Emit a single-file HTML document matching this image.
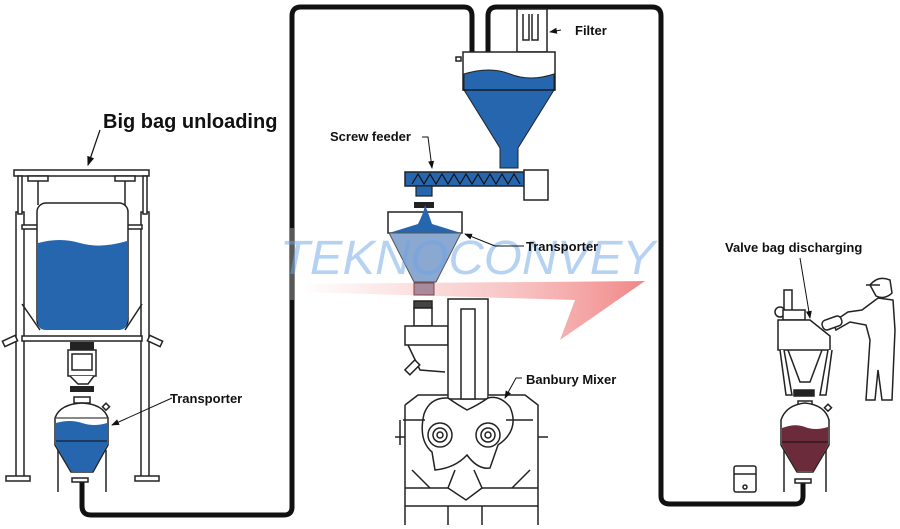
<!DOCTYPE html>
<html><head><meta charset="utf-8"><style>
html,body{margin:0;padding:0;background:#fff}
svg{display:block}
text{font-family:"Liberation Sans",sans-serif;font-weight:bold;fill:#111}
</style></head><body>
<svg width="900" height="529" viewBox="0 0 900 529" xmlns="http://www.w3.org/2000/svg">
<defs>
<linearGradient id="rg" x1="0" x2="1" y1="0" y2="0">
<stop offset="0" stop-color="#f4a0a0" stop-opacity="0"/>
<stop offset="0.6" stop-color="#f4a0a0" stop-opacity="0.6"/>
<stop offset="1" stop-color="#f08080" stop-opacity="0.95"/>
</linearGradient>
<marker id="ar" markerWidth="8" markerHeight="8" refX="7" refY="4" orient="auto"><path d="M0,1 L8,4 L0,7 z" fill="#111"/></marker>
</defs>
<g fill="none" stroke="#111" stroke-width="5" stroke-linejoin="round">
<path d="M82,478 V506 Q82,515 91,515 H284 Q292,515 292,507 V16 Q292,7 301,7 H464 Q472,7 472,16 V52"/>
<path d="M488,52 V16 Q488,7 497,7 H652 Q661,7 661,16 V496 Q661,504 670,504 H795 Q803,504 803,496 V482"/>
</g>
<rect x="289" y="228" width="6" height="72" fill="#888" opacity="0.6"/>
<!-- red arrow watermark -->
<path d="M300,284 L645,281 L560,340 L575,300 L300,292 z" fill="url(#rg)"/>
<!-- Big bag frame -->
<g stroke="#222" stroke-width="1.5" fill="#fff">
<rect x="14" y="170" width="135" height="6"/>
<rect x="16" y="212" width="8" height="268"/><rect x="141" y="212" width="8" height="268"/>
<rect x="18" y="176" width="4" height="38"/><rect x="143" y="176" width="4" height="38"/>
<rect x="6" y="476" width="24" height="5"/><rect x="135" y="476" width="24" height="5"/>
<rect x="22" y="225" width="120" height="4"/>
<rect x="22" y="336" width="120" height="5"/>
<rect x="28" y="176" width="20" height="5"/><rect x="115" y="176" width="20" height="5"/>
<line x1="38" y1="181" x2="38" y2="205"/><line x1="125" y1="181" x2="125" y2="205"/>
<rect x="37" y="203" width="91" height="126" rx="9"/>
<path d="M22,304 L40,330 M142,304 L125,330"/>
<rect x="3" y="338" width="14" height="6" transform="rotate(-25 10 341)"/>
<rect x="148" y="338" width="14" height="6" transform="rotate(25 155 341)"/>
<rect x="68" y="350" width="28" height="26"/>
<rect x="72" y="354" width="20" height="16"/>
<path d="M70,376 L78,384 H88 L94,376"/>
</g>
<path d="M38,243 Q60,237 80,243 T127,241 V322 Q127,330 118,330 H46 Q38,330 38,322 z" fill="#2566ae"/>
<rect x="70" y="342" width="24" height="8" fill="#222"/>
<rect x="70" y="386" width="24" height="6" fill="#222"/>
<!-- left transporter -->
<g stroke="#222" stroke-width="1.5" fill="#fff">
<rect x="74" y="397" width="16" height="6"/>
<path d="M55,418 Q60,404 82,403 Q103,404 108,418 V445 L93,472 H71 L55,445 z"/>
<line x1="58" y1="450" x2="58" y2="492"/><line x1="106" y1="450" x2="106" y2="492"/>
<rect x="72" y="478" width="16" height="4"/>
<rect x="104" y="404" width="5" height="5" transform="rotate(45 106 406)"/>
</g>
<path d="M56,423 Q70,419 82,423 T107,423 V445 L93,471 H71 L56,445 z" fill="#2566ae"/>
<line x1="56" y1="441" x2="107" y2="441" stroke="#111" stroke-width="1"/>
<line x1="56" y1="418" x2="107" y2="418" stroke="#111" stroke-width="1"/>
<!-- top hopper -->
<g stroke="#222" stroke-width="1.5" fill="#fff">
<rect x="517" y="9" width="30" height="43"/>
<path d="M523,14 V40 H529 V14 M532,14 V40 H538 V14" fill="none"/>
<rect x="463" y="52" width="92" height="38"/>
<rect x="456" y="57" width="5" height="4"/>
</g>
<path d="M464,74 Q490,66 510,74 T554,74 V90 L518,148 V168 H500 V148 L464,90 z" fill="#2566ae" stroke="#222" stroke-width="1"/>
<line x1="463" y1="90" x2="555" y2="90" stroke="#111" stroke-width="1.2"/>
<!-- screw feeder -->
<rect x="405" y="172" width="128" height="14" fill="#2566ae" stroke="#222" stroke-width="1.5"/>
<path d="M412,184 l6,-10 l6,10 l6,-10 l6,10 l6,-10 l6,10 l6,-10 l6,10 l6,-10 l6,10 l6,-10 l6,10 l6,-10 l6,10 l6,-10 l6,10 l6,-10 l6,10" fill="none" stroke="#111" stroke-width="1.2"/>
<rect x="416" y="186" width="16" height="10" fill="#2566ae" stroke="#222" stroke-width="1.2"/>
<rect x="524" y="170" width="24" height="30" fill="#fff" stroke="#222" stroke-width="1.5"/>
<rect x="414" y="202" width="20" height="6" fill="#222"/>
<!-- middle transporter -->
<rect x="388" y="212" width="74" height="21" fill="#fff" stroke="#222" stroke-width="1.5"/>
<path d="M389,233 Q405,228 418,224 Q424,212 425,205 Q428,212 432,224 Q445,228 461,233 z" fill="#2566ae"/>
<path d="M389,233 H461 L436,282 H414 z" fill="#8aa8d0" stroke="#555" stroke-width="1"/>
<rect x="414" y="283" width="20" height="12" fill="#a98a9c" stroke="#844" stroke-width="1"/>
<!-- watermark -->
<text x="280" y="274" font-size="48" font-style="italic" style="fill:#6ea6e6;opacity:0.5;font-weight:normal" textLength="375" lengthAdjust="spacingAndGlyphs">TEKNOCONVEY</text>
<!-- Banbury mixer -->
<g stroke="#222" stroke-width="1.5" fill="#fff">
<rect x="414" y="301" width="18" height="7" fill="#444"/>
<rect x="414" y="308" width="18" height="18"/>
<path d="M405,326 H448 V345 H405 z"/>
<path d="M408,345 L420,370 L445,372"/>
<rect x="409" y="360" width="7" height="14" transform="rotate(45 412 367)"/>
<rect x="448" y="299" width="40" height="100"/>
<rect x="461" y="309" width="14" height="90"/>
<path d="M405,405 L418,395 H448 M488,395 H525 L538,405 V525 M405,405 V525 M400,420 V445"/>
<line x1="395" y1="437" x2="405" y2="437"/><line x1="538" y1="437" x2="548" y2="437"/>
<path d="M448,398 Q430,397 424,414 Q418,440 432,452 L435,470 Q455,468 467,455 Q478,470 490,468 L498,445 Q520,430 510,407 Q500,395 488,398 Q478,405 467,410 Q458,405 448,398"/>
<circle cx="440" cy="435" r="12"/><circle cx="440" cy="435" r="7"/><circle cx="440" cy="435" r="3"/>
<circle cx="488" cy="435" r="12"/><circle cx="488" cy="435" r="7"/><circle cx="488" cy="435" r="3"/>
<line x1="403" y1="420" x2="425" y2="420"/><line x1="506" y1="420" x2="533" y2="420"/>
<path d="M455,470 L448,488 L466,500 L482,488 L474,470"/>
<path d="M405,488 H448 M482,488 H538 M405,506 H538 M448,506 V525 M482,506 V525"/>
<path d="M412,470 L430,488 M530,470 L512,488"/>
</g>
<!-- valve bag station -->
<g stroke="#222" stroke-width="1.5" fill="#fff">
<rect x="784" y="290" width="8" height="30"/>
<circle cx="780" cy="312" r="5"/>
<rect x="783" y="310" width="22" height="10"/>
<path d="M778,320 H810 L830,336 V350 H778 z"/>
<path d="M780,350 L786,395 H792 L784,350 M828,350 L820,395 H826 L832,350"/>
<path d="M788,350 L800,382 H810 L822,350" fill="none"/>
<rect x="794" y="390" width="20" height="6" fill="#222"/>
<rect x="798" y="401" width="14" height="6"/>
<path d="M781,420 Q786,405 805,403 Q825,405 829,420 V445 L813,472 H797 L781,445 z"/>
<line x1="784" y1="450" x2="784" y2="492"/><line x1="826" y1="450" x2="826" y2="492"/>
<rect x="826" y="405" width="5" height="5" transform="rotate(45 828 407)"/>
<rect x="795" y="479" width="16" height="4"/>
<rect x="734" y="466" width="22" height="26" rx="2"/>
<circle cx="745" cy="487" r="2"/>
<line x1="734" y1="474" x2="756" y2="474"/>
</g>
<path d="M782,428 Q795,423 805,427 T828,427 V445 L813,471 H797 L782,445 z" fill="#6b2b3a"/>
<line x1="782" y1="442" x2="828" y2="442" stroke="#111" stroke-width="1"/>
<!-- worker -->
<g stroke="#222" stroke-width="1.5" fill="#fff">
<path d="M870,285 Q878,275 890,280 L892,293 Q885,300 876,296 Z"/>
<path d="M866,285 H880"/>
<path d="M878,298 L893,300 L895,330 L892,400 H882 L878,370 L875,400 H866 L870,340 L866,325 L850,322 L836,330 L833,322 L848,312 L862,310 z"/>
<rect x="822" y="318" width="20" height="10" rx="4" transform="rotate(-20 832 323)"/>
</g>
<!-- labels -->
<text x="103" y="128" font-size="20">Big bag unloading</text>
<line x1="100" y1="130" x2="88" y2="165" stroke="#111" stroke-width="1.2" marker-end="url(#ar)"/>
<text x="170" y="403" font-size="13">Transporter</text>
<line x1="172" y1="398" x2="112" y2="425" stroke="#111" stroke-width="1" marker-end="url(#ar)"/>
<text x="330" y="141" font-size="13">Screw feeder</text>
<path d="M422,137 H428 L432,168" fill="none" stroke="#111" stroke-width="1" marker-end="url(#ar)"/>
<text x="575" y="35" font-size="13">Filter</text>
<line x1="561" y1="30" x2="550" y2="32" stroke="#111" stroke-width="1" marker-end="url(#ar)"/>
<text x="526" y="251" font-size="13">Transporter</text>
<path d="M524,246 H495 L465,234" fill="none" stroke="#111" stroke-width="1" marker-end="url(#ar)"/>
<text x="526" y="384" font-size="13">Banbury Mixer</text>
<path d="M522,378 H516 L505,398" fill="none" stroke="#111" stroke-width="1" marker-end="url(#ar)"/>
<text x="725" y="252" font-size="13">Valve bag discharging</text>
<line x1="800" y1="258" x2="810" y2="318" stroke="#111" stroke-width="1" marker-end="url(#ar)"/>
</svg>
</body></html>
